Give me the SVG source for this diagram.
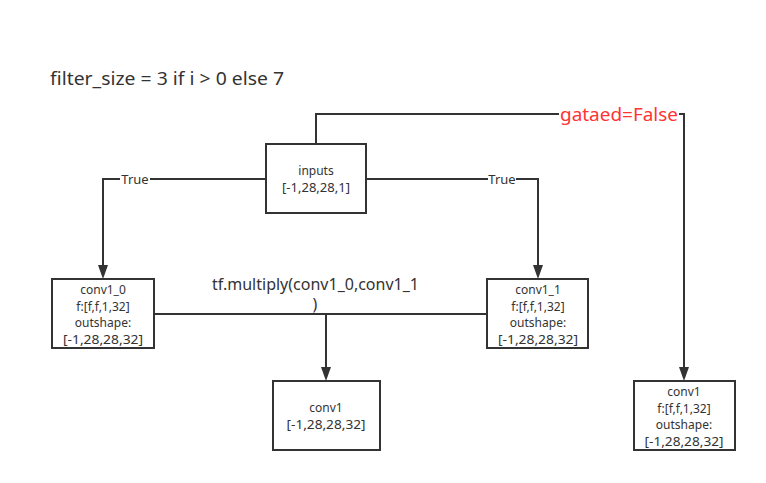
<svg xmlns="http://www.w3.org/2000/svg" width="766" height="483" viewBox="0 0 766 483">
<style>
.box{fill:#fff;stroke:#333;stroke-width:2}
.t{font-family:"Noto Sans","Open Sans",sans-serif;font-size:12px;fill:#333;text-anchor:middle}
.e{fill:none;stroke:#333;stroke-width:2}
.lbl{font-family:"Noto Sans","Open Sans",sans-serif;font-size:13px;fill:#333;text-anchor:middle}
</style>
<rect width="766" height="483" fill="#fff"/>
<text x="50" y="85" font-family="Noto Sans, Open Sans, sans-serif" font-size="18" fill="#333" textLength="234" lengthAdjust="spacingAndGlyphs">filter_size = 3 if i &gt; 0 else 7</text>
<g id="connectors">
<polyline class="e" points="316,144 316,114 559,114"/>
<polyline class="e" points="679,114 684,114 684,367"/>
<path d="M679,367 L689,367 L684,381 Z" fill="#333"/>
<polyline class="e" points="366,179 488,179"/>
<polyline class="e" points="516,179 538,179 538,265"/>
<path d="M533,265 L543,265 L538,279 Z" fill="#333"/>
<polyline class="e" points="266,179 150,179"/>
<polyline class="e" points="120,179 103,179 103,265"/>
<path d="M98,265 L108,265 L103,279 Z" fill="#333"/>
<polyline class="e" points="154,314 487,314"/>
<polyline class="e" points="326,314 326,367"/>
<path d="M321,367 L331,367 L326,381 Z" fill="#333"/>
<text class="lbl" x="135" y="184">True</text>
<text class="lbl" x="502" y="184">True</text>
<text x="560" y="121" font-family="Noto Sans, Open Sans, sans-serif" font-size="18" fill="#ff3333" textLength="118" lengthAdjust="spacingAndGlyphs">gataed=False</text>
<text x="212" y="290" font-family="Noto Sans, Open Sans, sans-serif" font-size="16" fill="#333" textLength="207" lengthAdjust="spacingAndGlyphs">tf.multiply(conv1_0,conv1_1</text>
<text x="315" y="310" font-family="Noto Sans, Open Sans, sans-serif" font-size="16" fill="#333" text-anchor="middle">)</text>
</g>
<g id="inputs">
<rect class="box" x="266" y="144" width="100" height="69"/>
<text class="t" x="316" y="175">inputs</text>
<text class="t" x="316" y="192" textLength="68" lengthAdjust="spacingAndGlyphs">[-1,28,28,1]</text>
</g>
<g id="conv1_0">
<rect class="box" x="52" y="279" width="102" height="69"/>
<text class="t" x="103" y="294">conv1_0</text>
<text class="t" x="103" y="310.5">f:[f,f,1,32]</text>
<text class="t" x="103" y="327">outshape:</text>
<text class="t" x="103" y="343.5" textLength="80" lengthAdjust="spacingAndGlyphs">[-1,28,28,32]</text>
</g>
<g id="conv1_1">
<rect class="box" x="487" y="279" width="101" height="69"/>
<text class="t" x="538" y="294">conv1_1</text>
<text class="t" x="538" y="310.5">f:[f,f,1,32]</text>
<text class="t" x="538" y="327">outshape:</text>
<text class="t" x="538" y="343.5" textLength="80" lengthAdjust="spacingAndGlyphs">[-1,28,28,32]</text>
</g>
<g id="conv1_mid">
<rect class="box" x="273" y="381" width="107" height="69"/>
<text class="t" x="326" y="412">conv1</text>
<text class="t" x="326" y="428.5" textLength="79" lengthAdjust="spacingAndGlyphs">[-1,28,28,32]</text>
</g>
<g id="conv1_right">
<rect class="box" x="634" y="381" width="101" height="69"/>
<text class="t" x="684" y="396">conv1</text>
<text class="t" x="684" y="412.5">f:[f,f,1,32]</text>
<text class="t" x="684" y="429">outshape:</text>
<text class="t" x="684" y="445.5" textLength="79" lengthAdjust="spacingAndGlyphs">[-1,28,28,32]</text>
</g>
</svg>
